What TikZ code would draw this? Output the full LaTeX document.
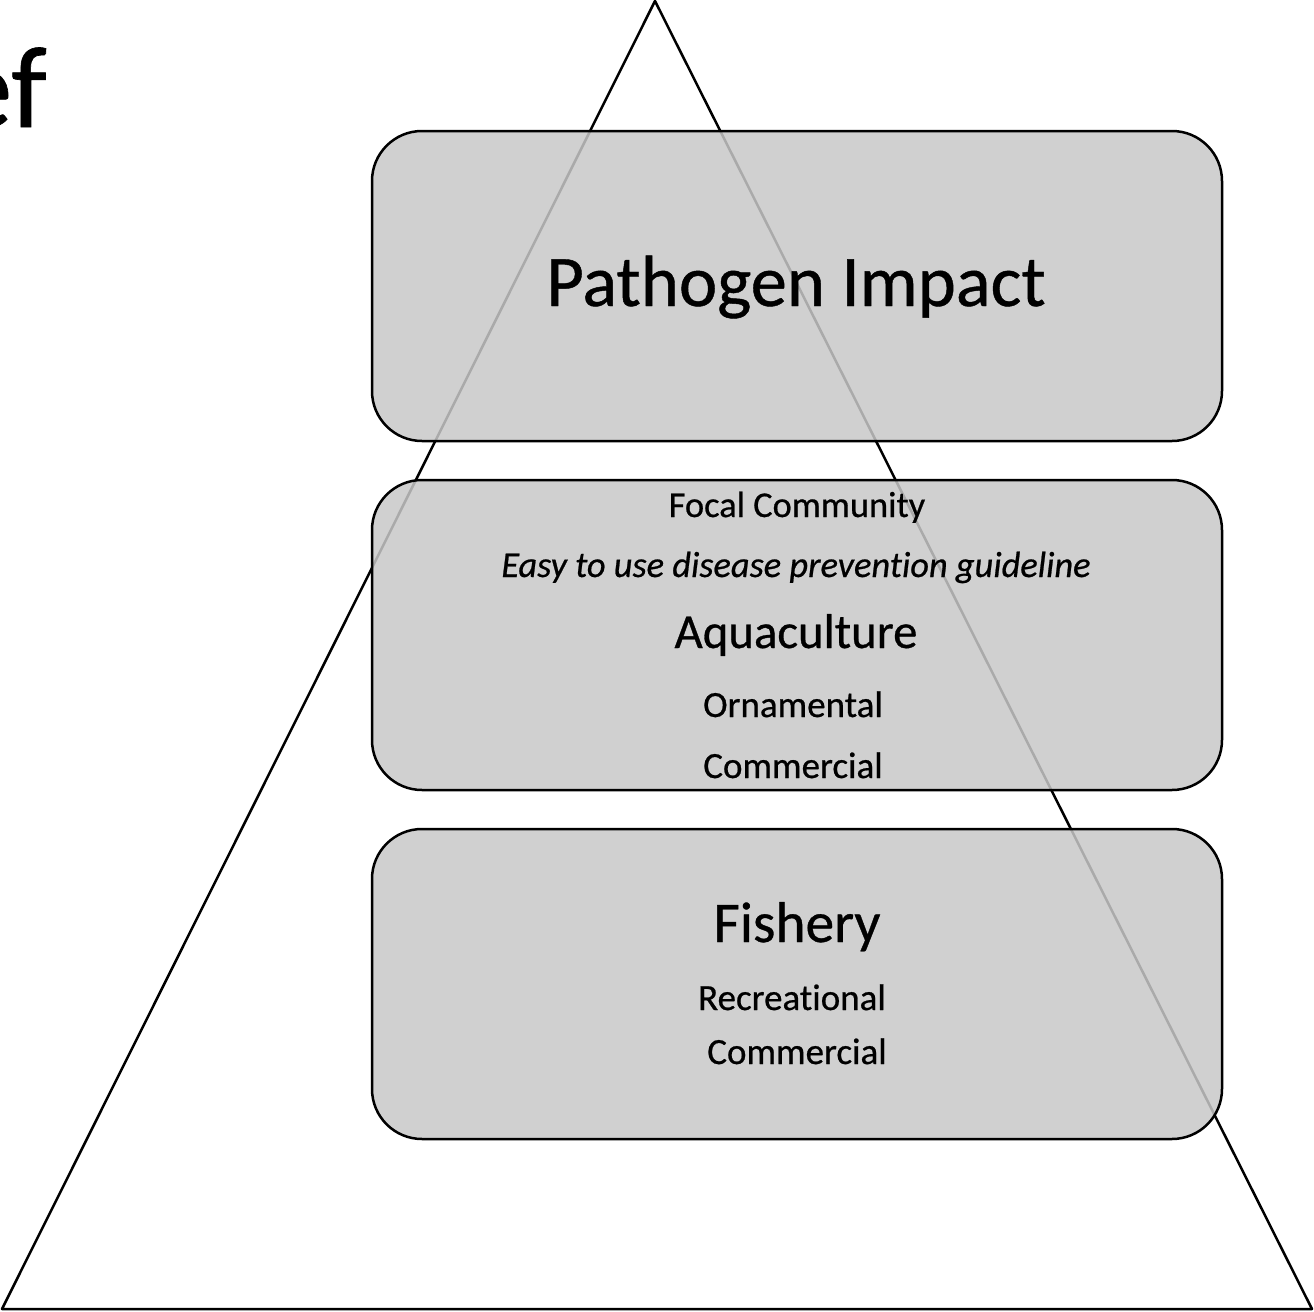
\documentclass[tikz,border=0pt]{standalone}
\usepackage{fontspec}
\setmainfont{Carlito}[Ligatures=NoCommon, UprightFeatures={FakeBold=0.6}, ItalicFeatures={FakeBold=0.6}]
\definecolor{boxgray}{RGB}{200,200,200}
\tikzset{
  layerbox/.style={draw=black, line width=1.25pt, fill=boxgray, fill opacity=0.85, draw opacity=1,
    rounded corners=25pt, minimum width=425pt, minimum height=155pt, inner sep=0pt},
  lbl/.style={anchor=base, inner sep=0pt, text=black},
}
\begin{document}
\begin{tikzpicture}[x=0.5pt,y=-0.5pt]
\clip (0,0) rectangle (1314,1312);
\fill[white] (0,0) rectangle (1314,1312);
% title fragment
\node[anchor=base east, inner sep=0pt] (ttl) at (47,127) {\fontsize{58pt}{66pt}\selectfont ef};
% pyramid
\coordinate (apex) at (655,1);
\coordinate (bl) at (2,1309);
\coordinate (br) at (1312,1309);
\draw[line width=1.25pt, line join=round] (apex) -- (bl) -- (br) -- cycle;
% boxes
\node[layerbox] (b1) at (797,286) {};
\node[layerbox] (b2) at (797,635) {};
\node[layerbox] (b3) at (797,984) {};
% texts
\node[lbl] (t1) at (796,306) {\fontsize{36.3pt}{42pt}\selectfont Pathogen Impact};
\node[lbl] (t2) at (797,517) {\fontsize{18.2pt}{22pt}\selectfont Focal Community};
\node[lbl] (t3) at (796,577) {\fontsize{18.2pt}{22pt}\selectfont\itshape Easy to use disease prevent\kern0pt ion guideline};
\node[lbl] (t4) at (796,648) {\fontsize{24.4pt}{29pt}\selectfont Aquaculture};
\node[lbl] (t5) at (793,717) {\fontsize{18.5pt}{22pt}\selectfont Ornamental};
\node[lbl] (t6) at (793,778) {\fontsize{18.5pt}{22pt}\selectfont Commercial};
\node[lbl] (t7) at (797,942) {\fontsize{28.7pt}{36pt}\selectfont Fishery};
\node[lbl] (t8) at (792,1010) {\fontsize{18.5pt}{22pt}\selectfont Recreat\kern0pt ional};
\node[lbl] (t9) at (797,1064) {\fontsize{18.5pt}{22pt}\selectfont Commercial};
\end{tikzpicture}
\end{document}
